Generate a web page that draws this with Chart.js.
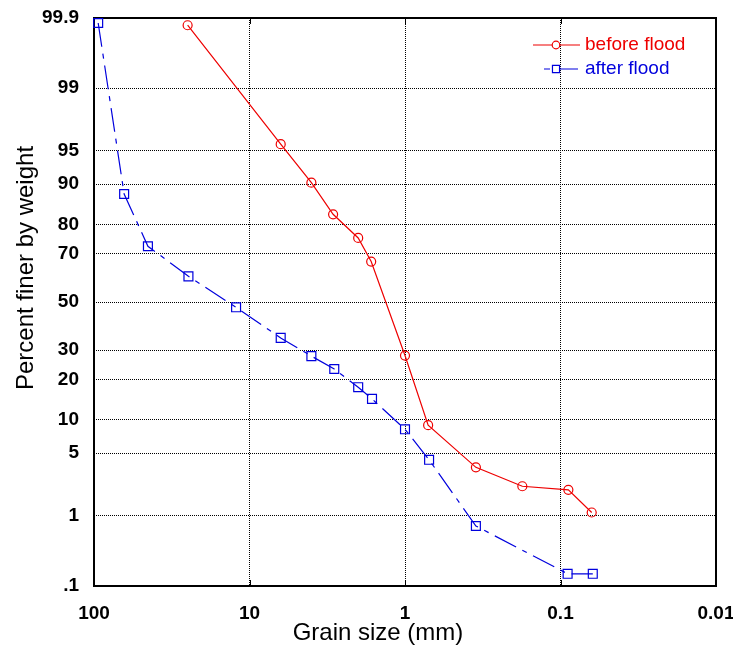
<!DOCTYPE html>
<html>
<head>
<meta charset="utf-8">
<script src="https://cdn.jsdelivr.net/npm/chart.js@4/dist/chart.umd.min.js"></script>
<style>
  html, body { margin: 0; padding: 0; background: #fff; }
  #wrap { width: 733px; height: 645px; }
</style>
</head>
<body>
<div id="wrap"><canvas id="chart" width="733" height="645"></canvas></div>
<script>
// grain size (mm) and percent finer
const beforeSize = [25, 6.3, 4, 2.9, 2, 1.65, 1, 0.71, 0.35, 0.176, 0.089, 0.063];
const beforePct = [99.87, 95.7, 90.3, 83, 75.7, 67, 28, 9, 3.6, 2.25, 2.05, 1.1];

const afterSize = [94, 64, 45, 24.7, 12.2, 6.3, 4, 2.85, 2, 1.63, 1, 0.7, 0.35, 0.09, 0.062];
const afterPct = [99.88, 88, 72.8, 61, 47.7, 34.8, 27.8, 23.3, 17.7, 14.6, 8.3, 4.3, 0.74, 0.155, 0.155];

const xTickValues = [100, 10, 1, 0.1, 0.01];
const xTickLabels = ['100', '10', '1', '0.1', '0.01'];
const yTickValues = [0.1, 1, 5, 10, 20, 30, 50, 70, 80, 90, 95, 99, 99.9];
const yTickLabels = ['.1', '1', '5', '10', '20', '30', '50', '70', '80', '90', '95', '99', '99.9'];

const xTitle = 'Grain size (mm)';
const yTitle = 'Percent finer by weight';

const RED = '#ee0000';
const BLUE = '#0000dd';
const FONT = "'Liberation Sans', Arial, sans-serif";

// inverse normal cdf (Acklam)
function probit(p) {
  const a = [-3.969683028665376e+01, 2.209460984245205e+02, -2.759285104469687e+02, 1.383577518672690e+02, -3.066479806614716e+01, 2.506628277459239e+00];
  const b = [-5.447609879822406e+01, 1.615858368580409e+02, -1.556989798598866e+02, 6.680131188771972e+01, -1.328068155288572e+01];
  const c = [-7.784894002430293e-03, -3.223964580411365e-01, -2.400758277161838e+00, -2.549732539343734e+00, 4.374664141464968e+00, 2.938163982698783e+00];
  const d = [7.784695709041462e-03, 3.224671290700398e-01, 2.445134137142996e+00, 3.754408661907416e+00];
  const pl = 0.02425;
  let q, r;
  if (p < pl) {
    q = Math.sqrt(-2 * Math.log(p));
    return (((((c[0]*q+c[1])*q+c[2])*q+c[3])*q+c[4])*q+c[5]) / ((((d[0]*q+d[1])*q+d[2])*q+d[3])*q+1);
  }
  if (p <= 1 - pl) {
    q = p - 0.5; r = q * q;
    return (((((a[0]*r+a[1])*r+a[2])*r+a[3])*r+a[4])*r+a[5])*q / (((((b[0]*r+b[1])*r+b[2])*r+b[3])*r+b[4])*r+1);
  }
  q = Math.sqrt(-2 * Math.log(1 - p));
  return -(((((c[0]*q+c[1])*q+c[2])*q+c[3])*q+c[4])*q+c[5]) / ((((d[0]*q+d[1])*q+d[2])*q+d[3])*q+1);
}

function normCdf(z) {
  // bisection on probit, good enough for hover
  let lo = 1e-9, hi = 1 - 1e-9;
  for (let i = 0; i < 60; i++) {
    const mid = (lo + hi) / 2;
    if (probit(mid) < z) lo = mid; else hi = mid;
  }
  return (lo + hi) / 2;
}

// probability (normal) axis
class ProbitScale extends Chart.Scale {
  determineDataLimits() {
    this.min = this.options.min;
    this.max = this.options.max;
  }
  buildTicks() {
    return yTickValues.map(v => ({ value: v }));
  }
  configure() {
    super.configure();
    this._zStart = probit(this.min / 100);
    this._zEnd = probit(this.max / 100);
  }
  getLabelForValue(v) {
    return String(v);
  }
  getPixelForValue(v) {
    if (v === null || v === undefined || isNaN(v)) return NaN;
    const z = probit(v / 100);
    return this.getPixelForDecimal((z - this._zStart) / (this._zEnd - this._zStart));
  }
  getValueForPixel(px) {
    const z = this._zStart + this.getDecimalForPixel(px) * (this._zEnd - this._zStart);
    return 100 * normCdf(z);
  }
}
ProbitScale.id = 'probit';
ProbitScale.defaults = {};
Chart.register(ProbitScale);

// keep the label overflow from pushing the plot box around
function noPad(s) {
  s.paddingLeft = 0; s.paddingRight = 0; s.paddingTop = 0; s.paddingBottom = 0;
}

// box around plot + small inner ticks
const framePlugin = {
  id: 'frame',
  beforeDatasetsDraw(chart) {
    const { ctx, chartArea: a } = chart;
    const xs = chart.scales.x;
    ctx.save();
    ctx.strokeStyle = '#000';
    ctx.lineWidth = 1;
    xs.ticks.forEach(t => {
      const px = Math.round(xs.getPixelForValue(t.value)) + 0.5;
      ctx.beginPath();
      ctx.moveTo(px, a.top); ctx.lineTo(px, a.top + 6);
      ctx.moveTo(px, a.bottom); ctx.lineTo(px, a.bottom - 6);
      ctx.stroke();
    });
    ctx.lineWidth = 2;
    ctx.strokeRect(a.left, a.top, a.right - a.left, a.bottom - a.top);
    ctx.restore();
  }
};

// axis titles sit a bit off-centre in the original, so place them by hand
const titlesPlugin = {
  id: 'axisTitles',
  afterDraw(chart) {
    const { ctx, chartArea: a } = chart;
    ctx.save();
    ctx.fillStyle = '#000';
    ctx.font = '24px ' + FONT;
    ctx.textAlign = 'center';
    ctx.textBaseline = 'alphabetic';
    ctx.fillText(xTitle, a.left + 284, 640);
    ctx.translate(33, a.top + 250);
    ctx.rotate(-Math.PI / 2);
    ctx.fillText(yTitle, 0, 0);
    ctx.restore();
  }
};

// legend drawn inside the plot, top right
const legendPlugin = {
  id: 'innerLegend',
  afterDatasetsDraw(chart) {
    const { ctx, chartArea: a } = chart;
    const rows = [
      { label: 'before flood', color: RED, x1: a.right - 183, x2: a.right - 136, dash: [], style: 'circle', r: 3.8, y: a.top + 27 },
      { label: 'after flood', color: BLUE, x1: a.right - 172, x2: a.right - 138, dash: [6, 2, 30, 0], style: 'rect', r: 5, y: a.top + 51 }
    ];
    ctx.save();
    rows.forEach(r => {
      ctx.strokeStyle = r.color;
      ctx.lineWidth = 1.2;
      ctx.setLineDash(r.dash);
      ctx.beginPath();
      ctx.moveTo(r.x1, r.y); ctx.lineTo(r.x2, r.y);
      ctx.stroke();
      ctx.setLineDash([]);
      ctx.fillStyle = '#fff';
      Chart.helpers.drawPoint(ctx, { pointStyle: r.style, radius: r.r, borderWidth: 1.2 }, a.right - 160, r.y);
      ctx.fillStyle = r.color;
      ctx.font = '19px ' + FONT;
      ctx.textBaseline = 'middle';
      ctx.textAlign = 'left';
      ctx.fillText(r.label, a.right - 131, r.y);
    });
    ctx.restore();
  }
};

new Chart(document.getElementById('chart'), {
  type: 'line',
  data: {
    datasets: [
      {
        label: 'before flood',
        data: beforeSize.map((s, i) => ({ x: s, y: beforePct[i] })),
        borderColor: RED,
        backgroundColor: 'rgba(0,0,0,0)',
        borderWidth: 1.2,
        pointStyle: 'circle',
        pointRadius: 4.5,
        pointBorderWidth: 1.2,
        pointBorderColor: RED,
        pointBackgroundColor: 'rgba(0,0,0,0)',
        tension: 0,
        clip: false
      },
      {
        label: 'after flood',
        data: afterSize.map((s, i) => ({ x: s, y: afterPct[i] })),
        borderColor: BLUE,
        backgroundColor: 'rgba(0,0,0,0)',
        borderWidth: 1.2,
        borderDash: [24, 7, 5, 7],
        pointStyle: 'rect',
        pointRadius: 6.3,
        pointBorderWidth: 1.2,
        pointBorderColor: BLUE,
        pointBackgroundColor: 'rgba(0,0,0,0)',
        tension: 0,
        clip: false
      }
    ]
  },
  options: {
    responsive: false,
    animation: false,
    events: [],
    layout: { padding: { top: 18, right: 17, left: 0, bottom: 0 } },
    plugins: {
      legend: { display: false },
      tooltip: { enabled: false }
    },
    scales: {
      x: {
        type: 'logarithmic',
        reverse: true,
        min: 0.01,
        max: 100,
        afterBuildTicks: s => { s.ticks = xTickValues.map(v => ({ value: v })); },
        afterFit: s => { s.height = 59; noPad(s); },
        grid: { color: '#000', lineWidth: 1, drawTicks: false },
        border: { display: false, dash: [1, 1] },
        ticks: {
          autoSkip: false,
          maxRotation: 0,
          padding: 16,
          color: '#000',
          font: { family: FONT, size: 19, weight: 'bold' },
          callback: v => xTickLabels[xTickValues.indexOf(v)]
        },
        title: { display: false }
      },
      y: {
        type: 'probit',
        min: 0.1,
        max: 99.9,
        afterFit: s => { s.width = 94; noPad(s); },
        grid: { color: '#000', lineWidth: 1, drawTicks: false },
        border: { display: false, dash: [1, 1] },
        ticks: {
          autoSkip: false,
          padding: 15,
          color: '#000',
          font: { family: FONT, size: 19, weight: 'bold' },
          callback: v => yTickLabels[yTickValues.indexOf(v)]
        },
        title: { display: false }
      }
    }
  },
  plugins: [framePlugin, titlesPlugin, legendPlugin]
});
</script>
</body>
</html>
